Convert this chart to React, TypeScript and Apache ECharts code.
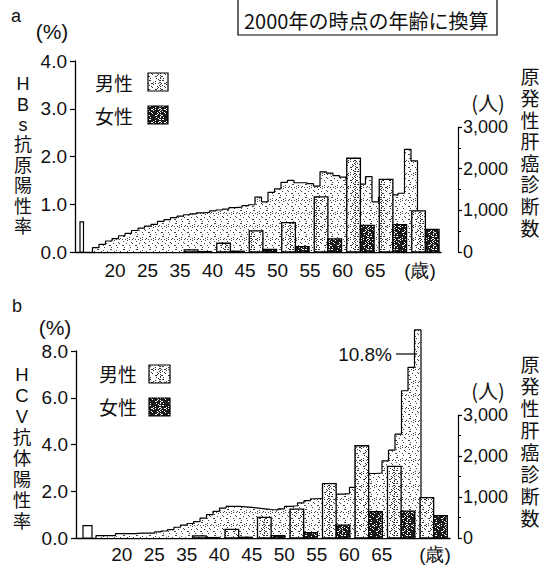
import React, { useEffect, useRef } from "react";
import * as echarts from "echarts";

// ---------- data ----------
const ageGroupLabels = ["20", "25", "35", "40", "45", "50", "55", "60", "65"];
const ageUnitLabel = "(歳)";
// primary liver cancer diagnoses per age group (persons), same in both panels
const maleCancerCases = [0, 0, 50, 210, 505, 705, 1325, 2250, 1745, 985];
const femaleCancerCases = [0, 0, 10, 18, 60, 130, 315, 640, 655, 545];
// HBs antigen positive rate (%) by single cohort step
const hbsPositiveRate = [
  0.09, 0.16, 0.23, 0.28, 0.34, 0.39, 0.45, 0.5, 0.54, 0.58,
  0.64, 0.68, 0.72, 0.75, 0.78, 0.8, 0.82, 0.83, 0.86, 0.88,
  0.9, 0.93, 0.94, 0.97, 0.99, 1.15, 1.05, 1.25, 1.32, 1.46,
  1.5, 1.45, 1.45, 1.43, 1.38, 1.68, 1.65, 1.6, 1.57, 1.5,
  1.45, 1.42, 1.58, 1.05, 1.15, 1.2, 1.19, 1.23, 2.15, 1.91,
];
// HCV antibody positive rate (%) by single cohort step (last step drawn truncated)
const hcvPositiveRate = [
  0.1, 0.1, 0.1, 0.19, 0.19, 0.19, 0.21, 0.21, 0.21, 0.26,
  0.3, 0.36, 0.46, 0.55, 0.62, 0.7, 0.85, 1.0, 1.14, 1.28,
  1.35, 1.35, 1.33, 1.31, 1.28, 1.25, 1.22, 1.2, 1.25, 1.35,
  1.38, 1.5, 1.6, 1.68, 1.7, 1.75, 1.8, 1.88, 1.9, 2.17,
  2.5, 2.7, 2.76, 2.78, 3.3, 3.76, 4.44, 6.3, 7.3, 8.9,
];
const hbsYoungestRate = 0.63;
const hcvYoungestRate = 0.53;
const hcvPeakNote = "10.8%";
const conversionNote = "2000年の時点の年齢に換算";

// ---------- layout ----------
const PX_PER_UNIT = 6.5;
const FONT_NUM = '"Liberation Sans", Arial, sans-serif';
const FONT_CJK = '"Noto Sans CJK JP", "Noto Sans CJK SC", sans-serif';
// primary font with tight metrics, CJK glyphs fall back to Noto CJK
const FONT_VERT = '"Liberation Sans", "Noto Sans CJK JP", sans-serif';
const INK = "#111";

const panelLayouts = [
  {
    gridLeft: 75, gridRight: 441, gridTop: 61, gridBottom: 252, rightTop: 127,
    rightAxisX: 458, yMax: 4, yInterval: 1, groupOrigin: 116, labelShift: -1,
    unitLabelX: 420, stepStartX: 92.5, youngestX: [80, 83.5], xLabelMargin: 9,
  },
  {
    gridLeft: 76, gridRight: 450, gridTop: 351, gridBottom: 538, rightTop: 415,
    rightAxisX: 458, yMax: 8, yInterval: 2, groupOrigin: 124.25, labelShift: -2.5,
    unitLabelX: 435, stepStartX: 96, youngestX: [83, 92], xLabelMargin: 7,
  },
];
const panelData = [
  { rates: hbsPositiveRate, youngest: hbsYoungestRate },
  { rates: hcvPositiveRate, youngest: hcvYoungestRate },
];

function makeStipple(fg: string, bg: string, thr: number): HTMLCanvasElement {
  const size = 13;
  const c = document.createElement("canvas");
  c.width = size;
  c.height = size;
  const ctx = c.getContext("2d")!;
  ctx.fillStyle = bg;
  ctx.fillRect(0, 0, size, size);
  ctx.fillStyle = fg;
  for (let y = 0; y < size; y++) {
    for (let x = 0; x < size; x++) {
      if ((x * 5 + y * 8 + ((x * y) % 7)) % 17 < thr) ctx.fillRect(x, y, 1, 1);
    }
  }
  return c;
}

export default function App() {
  const ref = useRef<HTMLDivElement>(null);
  useEffect(() => {
    if (!ref.current) return;
    const chart = echarts.init(ref.current, undefined, { renderer: "svg" });

    const areaPat = { image: makeStipple("#444", "#fff", 3), repeat: "repeat" } as any;
    const malePat = { image: makeStipple("#333", "#fff", 4), repeat: "repeat" } as any;
    const femalePat = { image: makeStipple("#fff", "#1a1a1a", 4), repeat: "repeat" } as any;

    const grid: any[] = [];
    const xAxis: any[] = [];
    const yAxis: any[] = [];
    const series: any[] = [];

    panelLayouts.forEach((p, pi) => {
      const u = (px: number) => (px - p.groupOrigin) / PX_PER_UNIT;
      const xMin = u(p.gridLeft);
      const xMax = u(p.gridRight);
      const labelPos = ageGroupLabels.map((_, i) => 5 * i + p.labelShift / PX_PER_UNIT);
      const allPos = [...labelPos, u(p.unitLabelX)];
      const allTxt = [...ageGroupLabels, ageUnitLabel];

      grid.push({
        left: p.gridLeft, top: p.gridTop, width: p.gridRight - p.gridLeft,
        height: p.gridBottom - p.gridTop, containLabel: false,
      });
      grid.push({
        left: p.gridLeft, top: p.rightTop, width: p.gridRight - p.gridLeft,
        height: p.gridBottom - p.rightTop, containLabel: false,
      });

      xAxis.push({
        type: "value", gridIndex: 2 * pi, min: xMin, max: xMax,
        axisLine: { show: true, onZero: false, lineStyle: { color: "#000", width: 1.3 } },
        axisTick: { show: false }, splitLine: { show: false },
        axisLabel: {
          customValues: allPos,
          margin: p.xLabelMargin,
          color: INK,
          fontSize: 19,
          fontFamily: FONT_NUM,
          formatter: (v: number) => {
            let best = 0;
            allPos.forEach((q, k) => {
              if (Math.abs(q - v) < Math.abs(allPos[best] - v)) best = k;
            });
            return allTxt[best];
          },
        },
      });
      xAxis.push({
        type: "value", gridIndex: 2 * pi + 1, min: xMin, max: xMax, show: false,
        axisLine: { onZero: false },
      });

      yAxis.push({
        type: "value", gridIndex: 2 * pi, min: 0, max: p.yMax, interval: p.yInterval,
        axisLine: { show: true, onZero: false, lineStyle: { color: "#000", width: 1.3 } },
        axisTick: { show: true, length: 5, lineStyle: { color: "#000", width: 1.2 } },
        splitLine: { show: false },
        axisLabel: {
          margin: 8, color: INK, fontSize: 19, fontFamily: FONT_NUM,
          formatter: (v: number) => v.toFixed(1),
        },
      });
      yAxis.push({
        type: "value", gridIndex: 2 * pi + 1, position: "right",
        offset: p.rightAxisX - p.gridRight, min: 0, max: 3000, interval: 1000,
        axisLine: { show: true, onZero: false, lineStyle: { color: "#000", width: 1.2 } },
        axisTick: { show: true, length: 4, lineStyle: { color: "#000", width: 1.2 } },
        minorTick: { show: true, splitNumber: 2, length: 3, lineStyle: { color: "#000", width: 1 } },
        splitLine: { show: false }, minorSplitLine: { show: false },
        axisLabel: {
          margin: 5, color: INK, fontSize: 18, fontFamily: FONT_NUM,
          formatter: (v: number) => v.toLocaleString("en-US"),
        },
      });

      const d = panelData[pi];
      const s0 = u(p.stepStartX);
      const stepPts: number[][] = [[s0, 0]];
      d.rates.forEach((v, k) => stepPts.push([s0 + k, v]));
      stepPts.push([s0 + d.rates.length, d.rates[d.rates.length - 1]]);
      stepPts.push([s0 + d.rates.length, 0]);

      series.push({
        type: "line", xAxisIndex: 2 * pi, yAxisIndex: 2 * pi, step: "end",
        data: stepPts, symbol: "none", clip: false, z: 2,
        lineStyle: { color: "#000", width: 1.2 },
        areaStyle: { color: areaPat, opacity: 1 },
      });

      const yx = [u(p.youngestX[0]), u(p.youngestX[1])];
      series.push({
        type: "custom", xAxisIndex: 2 * pi, yAxisIndex: 2 * pi, z: 3,
        data: [[0, d.youngest]],
        renderItem: (_: any, api: any) => {
          const a = api.coord([yx[0], api.value(1)]);
          const b = api.coord([yx[1], 0]);
          return {
            type: "rect",
            shape: { x: a[0], y: a[1], width: b[0] - a[0], height: b[1] - a[1] },
            style: { fill: "#fff", stroke: "#000", lineWidth: 1.2 },
          };
        },
      });

      const barSeries = (vals: number[], offs: number[], fill: any) => ({
        type: "custom", xAxisIndex: 2 * pi + 1, yAxisIndex: 2 * pi + 1, z: 4,
        data: vals.map((v, i) => [i, v]),
        renderItem: (_: any, api: any) => {
          const i = api.value(0);
          const v = api.value(1);
          if (!v) return null;
          const a = api.coord([i * 5 + offs[0], v]);
          const b = api.coord([i * 5 + offs[1], 0]);
          return {
            type: "rect",
            shape: { x: a[0], y: a[1], width: b[0] - a[0], height: b[1] - a[1] },
            style: { fill, stroke: "#000", lineWidth: 1.3 },
          };
        },
      });
      series.push(barSeries(maleCancerCases, [0.5, 2.6], malePat));
      series.push(barSeries(femaleCancerCases, [2.6, 4.7], femalePat));
    });

    const txt = (text: string, x: number, y: number, size: number, family: string, align = "center", va = "middle") => ({
      type: "text", x, y, z: 20,
      style: {
        text, fill: INK, align, verticalAlign: va,
        font: `${size}px ${family}`, lineHeight: size,
      },
    });
    // vertical (upright) text: one element per character
    const vert = (s: string, x: number, yTop: number, step: number, size: number) =>
      Array.from(s).map((ch, k) => txt(ch, x, yTop + step * k + step / 2, size, FONT_VERT));

    const graphic: any[] = [
      // note box (top cut off)
      { type: "rect", z: 20, shape: { x: 238, y: -10, width: 259, height: 45 }, style: { fill: "none", stroke: "#000", lineWidth: 1.2 } },
      txt(conversionNote, 244, 20, 20, FONT_CJK, "left"),
      // panel a
      txt("a", 16, 16, 18, FONT_NUM),
      txt("(%)", 52, 31, 21, FONT_NUM),
      ...vert("HBs抗原陽性率", 23, 74, 20.4, 18),
      txt("男性", 133, 82, 19, FONT_CJK, "right"),
      txt("女性", 133, 115, 19, FONT_CJK, "right"),
      { type: "rect", z: 20, shape: { x: 148, y: 73, width: 20, height: 18 }, style: { fill: malePat, stroke: "#000", lineWidth: 1.2 } },
      { type: "rect", z: 20, shape: { x: 148, y: 106, width: 20, height: 18 }, style: { fill: femalePat, stroke: "#000", lineWidth: 1.2 } },
      txt("(人)", 488, 102, 20, FONT_CJK),
      ...vert("原発性肝癌診断数", 530, 67, 21.6, 19),
      // panel b
      txt("b", 17, 306, 18, FONT_NUM),
      txt("(%)", 55, 327, 21, FONT_NUM),
      ...vert("HCV抗体陽性率", 22, 364, 21, 18.5),
      txt("男性", 137, 373, 19, FONT_CJK, "right"),
      txt("女性", 137, 406, 19, FONT_CJK, "right"),
      { type: "rect", z: 20, shape: { x: 149, y: 365, width: 21, height: 18 }, style: { fill: malePat, stroke: "#000", lineWidth: 1.2 } },
      { type: "rect", z: 20, shape: { x: 149, y: 398, width: 21, height: 18 }, style: { fill: femalePat, stroke: "#000", lineWidth: 1.2 } },
      txt("(人)", 488, 390, 20, FONT_CJK),
      ...vert("原発性肝癌診断数", 530, 354, 22, 19),
      txt(hcvPeakNote, 392, 354, 19, FONT_NUM, "right"),
      { type: "line", z: 20, shape: { x1: 396, y1: 354, x2: 417, y2: 354 }, style: { stroke: "#000", lineWidth: 1.2 } },
    ];

    chart.setOption({
      animation: false,
      backgroundColor: "#fff",
      grid, xAxis, yAxis, series, graphic,
    });
    return () => chart.dispose();
  }, []);

  return <div ref={ref} style={{ position: "fixed", left: 0, top: 0, width: 546, height: 569 }} />;
}
